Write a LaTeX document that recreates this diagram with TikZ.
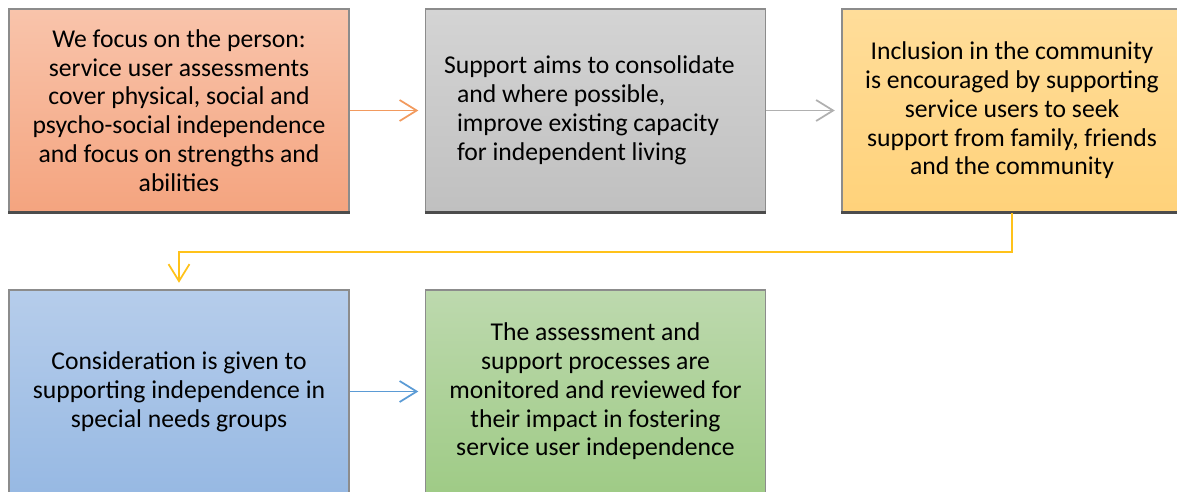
\documentclass[tikz,border=0pt]{standalone}
\usepackage{fontspec}
\setmainfont{Carlito}
\usetikzlibrary{arrows.meta}
% box fills (top / bottom of the gradient) and connector colours
\definecolor{peachtop}{HTML}{F9C4AB}
\definecolor{peachbot}{HTML}{F4A47F}
\definecolor{peachline}{HTML}{F29A5E}
\definecolor{greytop}{HTML}{D4D4D4}
\definecolor{greybot}{HTML}{C0C0C0}
\definecolor{greyline}{HTML}{B0B0B0}
\definecolor{sandtop}{HTML}{FFDD9A}
\definecolor{sandbot}{HTML}{FFD27A}
\definecolor{sandline}{HTML}{FFC21A}
\definecolor{skytop}{HTML}{B6CDEB}
\definecolor{skybot}{HTML}{97B9E3}
\definecolor{skyline}{HTML}{5B9BD5}
\definecolor{leaftop}{HTML}{BDD9AE}
\definecolor{leafbot}{HTML}{9FCB86}
\tikzset{
  card/.style={draw=black!45, line width=0.03cm, minimum width=6.8cm,
    minimum height=4.06cm, inner sep=0pt, align=center,
    font=\fontsize{14.6}{16.4}\selectfont},
  link/.style={line width=0.035cm, shorten >=0.13cm,
    -{Straight Barb[length=0.34cm,width=0.42cm]}},
}
\begin{document}
\begin{tikzpicture}[x=0.02cm,y=-0.02cm]
\useasboundingbox (0,0) rectangle (1177,491);
\clip (0,0) rectangle (1177,491);
% top row
\node[card, top color=peachtop, bottom color=peachbot] (b1) at (179,110.5)
  {We focus on the person:\\service user assessments\\cover physical, social and\\psycho-social independence\\and focus on strengths and\\abilities};
\node[card, top color=greytop, bottom color=greybot, align=left,
  text width=5.54cm] (b2) at (595.5,110.5)
  {\spaceskip=0pt\relax
   \hspace*{-0.26cm}\mbox{Support aims to consolidate}\\and where possible,\\improve existing capacity\\for independent living};
\node[card, top color=sandtop, bottom color=sandbot] (b3) at (1012,110.5)
  {Inclusion in the community\\is encouraged by supporting\\service users to seek\\support from family, friends\\and the community};
% bottom row
\node[card, top color=skytop, bottom color=skybot] (b4) at (179,391.5)
  {Consideration is given to\\supporting independence in\\special needs groups};
\node[card, top color=leaftop, bottom color=leafbot] (b5) at (595.5,391.5)
  {The assessment and\\support processes are\\monitored and reviewed for\\their impact in fostering\\service user independence};
% darker lower edges
\foreach \b in {b1,b2,b3,b4,b5}
  \draw[line width=0.05cm, black!70] (\b.south west) -- (\b.south east);
% connectors
\draw[link, peachline] (b1.east) -- (b2.west);
\draw[link, greyline] (b2.east) -- (b3.west);
\draw[link, sandline] (b3.south) -- ++(0,39) -| (b4.north);
\draw[link, skyline] (b4.east) -- (b5.west);
\end{tikzpicture}
\end{document}
